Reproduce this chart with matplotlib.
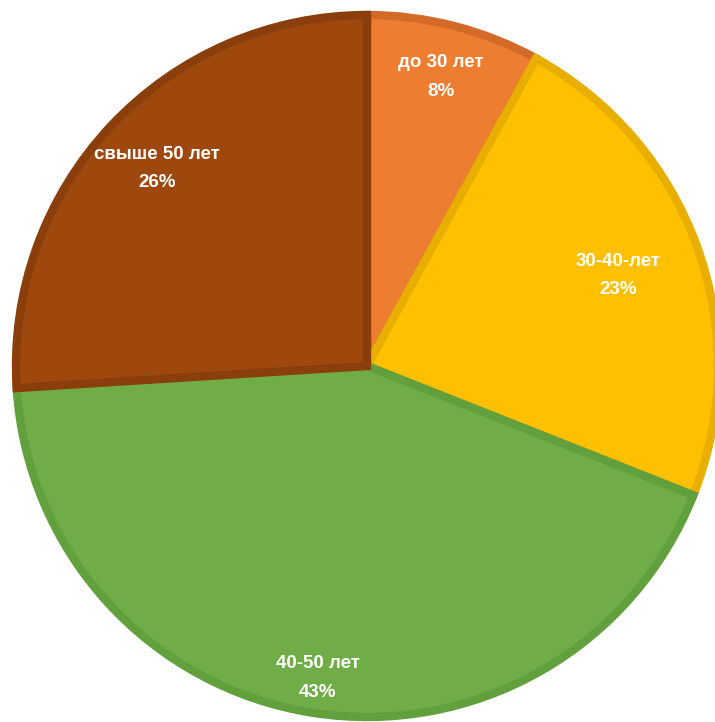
import matplotlib
matplotlib.use("Agg")
import matplotlib.pyplot as plt
import numpy as np

categories = ["до 30 лет", "30-40-лет", "40-50 лет", "свыше 50 лет"]
values = [8, 23, 43, 26]
colors = ["#ED7D31", "#FFC000", "#70AD47", "#9E480E"]
edge_colors = ["#D46A28", "#E8AE00", "#62A03E", "#8A3E0C"]
label_dist = [0.85, 0.76, 0.90, 0.82]

W, H = 715, 722
cx, cy, R = 367, 366, 351

fig = plt.figure(figsize=(W / 100, H / 100), dpi=100)
ax = fig.add_axes([0, 0, 1, 1])

wedges, _ = ax.pie(values, colors=colors, startangle=90, counterclock=False,
                   radius=1.0, center=(0, 0), frame=True,
                   wedgeprops=dict(linewidth=6, joinstyle="miter"))
for w, ec in zip(wedges, edge_colors):
    w.set_edgecolor(ec)
ax.set_xlim(-cx / R, (W - cx) / R)
ax.set_ylim((cy - H) / R, cy / R)
ax.set_aspect("auto")
ax.axis("off")

total = sum(values)
cum = 0
for cat, v, d in zip(categories, values, label_dist):
    mid = 90 - (cum + v / 2) / total * 360
    cum += v
    x = d * np.cos(np.radians(mid))
    y = d * np.sin(np.radians(mid))
    ax.text(x, y, f"{cat}\n{v}%", ha="center", va="center", color="white",
            fontsize=13.5, fontweight="bold",
            family=["Liberation Sans", "DejaVu Sans"], linespacing=1.85)

fig.savefig("out.png", dpi=100)
